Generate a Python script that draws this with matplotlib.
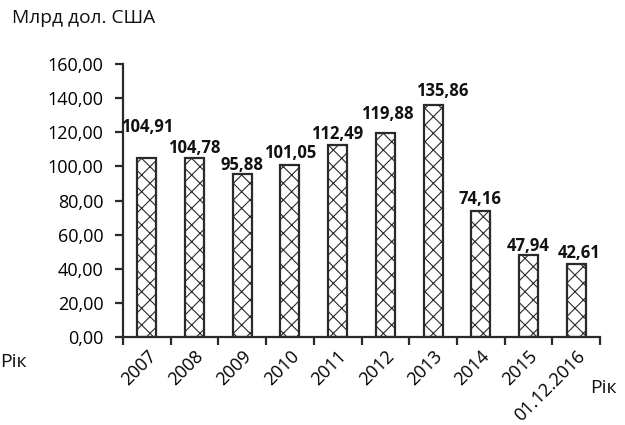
import matplotlib
matplotlib.use("Agg")
import matplotlib.pyplot as plt
import numpy as np

categories = ["2007", "2008", "2009", "2010", "2011", "2012", "2013", "2014", "2015", "01.12.2016"]
values = [104.91, 104.78, 95.88, 101.05, 112.49, 119.88, 135.86, 74.16, 47.94, 42.61]
labels = ["104,91", "104,78", "95,88", "101,05", "112,49", "119,88", "135,86", "74,16", "47,94", "42,61"]
# label offsets (pixels above bar top, horizontal shift) -- styling only
label_dy = [31, 10, 9, 12, 11, 19, 14, 12, 9, 11]
label_dx = [0, 0, 0, 0, 0, 2, 9, -1, 0, 3]

plt.rcParams['font.family'] = ['Open Sans', 'DejaVu Sans']
plt.rcParams['hatch.linewidth'] = 0.8
plt.rcParams['hatch.color'] = '#111111'

fig = plt.figure(figsize=(6.25, 4.25), dpi=100)
ax = fig.add_axes([0.1968, 0.207, 0.7632, 0.642])

x = np.arange(len(categories))
bars = ax.bar(x, values, width=0.4, facecolor='white', edgecolor='#2a2a2a',
              linewidth=1.6, hatch='xx')

for xi, v, lab, dy, dx in zip(x, values, labels, label_dy, label_dx):
    ax.annotate(lab, (xi, v), xytext=(dx * 0.72, dy * 0.72), textcoords='offset points',
                ha='center', va='center', fontsize=12, fontweight='bold', color='#111111')

ax.set_xlim(-0.5, len(categories) - 0.5)
ax.set_ylim(0, 160)
ax.set_yticks(np.arange(0, 161, 20))
ax.set_yticklabels([f"{t:.2f}".replace('.', ',') for t in np.arange(0, 161, 20)])

ax.set_xticks(np.arange(-0.5, len(categories)), labels=[])
ax.set_xticks(x, minor=True)
ax.set_xticklabels(categories, minor=True, rotation=45, ha='right', rotation_mode='anchor')
ax.tick_params(axis='x', which='minor', length=0, pad=7, labelsize=13)
ax.tick_params(axis='x', which='major', length=6, width=1.6, color='#2a2a2a', direction='out')
ax.tick_params(axis='y', length=6, width=1.6, color='#2a2a2a', pad=8, labelsize=13)

for s in ['top', 'right']:
    ax.spines[s].set_visible(False)
for s in ['left', 'bottom']:
    ax.spines[s].set_linewidth(1.6)
    ax.spines[s].set_color('#2a2a2a')

fig.text(0.019, 0.958, "Млрд дол. США", fontsize=13.8, ha='left', va='center', color='#111111')
fig.text(0.0, 0.148, "Рік", fontsize=14, ha='left', va='center', color='#111111')
fig.text(0.944, 0.087, "Рік", fontsize=14, ha='left', va='center', color='#111111')

fig.savefig("out.png", dpi=100)
